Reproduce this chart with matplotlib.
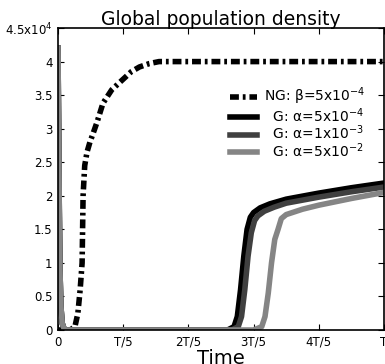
# Global population density over time, NG vs G runs
import matplotlib.pyplot as plt

# time as a fraction of T
ng_t = [0.0, 0.02, 0.04, 0.052, 0.061, 0.068, 0.074, 0.077, 0.082, 0.089, 0.098, 0.107,
        0.12, 0.138, 0.165, 0.196, 0.225, 0.25, 0.28, 0.31, 0.4, 0.6, 0.8, 1.0]
ng_v = [0.0, 0.0, 0.01, 0.05, 0.25, 0.6, 1.0, 2.0, 2.45, 2.65, 2.8, 2.92,
        3.1, 3.38, 3.58, 3.72, 3.85, 3.92, 3.97, 4.0, 4.0, 4.0, 4.0, 4.0]

g1_t = [0.0, 0.002, 0.004, 0.006, 0.009, 0.013, 0.02, 0.5, 0.52, 0.54, 0.55, 0.56, 0.57,
        0.58, 0.59, 0.60, 0.62, 0.65, 0.7, 0.8, 0.9, 1.0]
g1_v = [4.2, 3.0, 1.8, 0.9, 0.35, 0.1, 0.0, 0.0, 0.0, 0.05, 0.2, 0.6, 1.1,
        1.5, 1.68, 1.75, 1.82, 1.88, 1.95, 2.04, 2.12, 2.19]

g2_t = [0.0, 0.002, 0.004, 0.006, 0.009, 0.013, 0.02, 0.5, 0.533, 0.553, 0.563, 0.573, 0.583,
        0.593, 0.603, 0.613, 0.633, 0.663, 0.7, 0.8, 0.9, 1.0]
g2_v = [4.2, 3.0, 1.8, 0.9, 0.35, 0.1, 0.0, 0.0, 0.0, 0.05, 0.2, 0.6, 1.1,
        1.45, 1.63, 1.7, 1.77, 1.83, 1.89, 1.98, 2.06, 2.13]

g3_t = [0.0, 0.002, 0.004, 0.006, 0.009, 0.013, 0.02, 0.55, 0.6, 0.625, 0.635, 0.645, 0.655,
        0.665, 0.675, 0.685, 0.7, 0.75, 0.8, 0.9, 1.0]
g3_v = [4.2, 3.0, 1.8, 0.9, 0.35, 0.1, 0.0, 0.0, 0.0, 0.05, 0.2, 0.55, 1.0,
        1.35, 1.5, 1.66, 1.72, 1.8, 1.86, 1.96, 2.05]

xticks = [0, 0.2, 0.4, 0.6, 0.8, 1.0]
xlabels = ['0', 'T/5', '2T/5', '3T/5', '4T/5', 'T']
yticks = [0, 0.5, 1, 1.5, 2, 2.5, 3, 3.5, 4, 4.5]
ylabels = ['0', '0.5', '1', '1.5', '2', '2.5', '3', '3.5', '4', '4.5x10$^4$']

fig = plt.figure(figsize=(3.85, 3.64), dpi=100)
ax = fig.add_axes([0.1506, 0.0934, 0.8468, 0.8296])

ng, = ax.plot(ng_t, ng_v, color='black', lw=4, label='NG: β=5x10$^{-4}$')
ng.set_dashes([1.6, 0.7, 0.5, 0.7])
ax.plot(g1_t, g1_v, color='black', lw=4, label='  G: α=5x10$^{-4}$')
ax.plot(g2_t, g2_v, color='#404040', lw=4, label='  G: α=1x10$^{-3}$')
ax.plot(g3_t, g3_v, color='#858585', lw=4, label='  G: α=5x10$^{-2}$')

ax.set_xlim(0, 1.0)
ax.set_ylim(0, 4.5)
ax.set_xticks(xticks)
ax.set_xticklabels(xlabels)
ax.set_yticks(yticks)
ax.set_yticklabels(ylabels)
ax.tick_params(direction='in', top=True, right=True, length=4, labelsize=8.5, pad=4)
for s in ax.spines.values():
    s.set_linewidth(1.2)

ax.set_title('Global population density', fontsize=13.5, pad=2)
ax.set_xlabel('Time', fontsize=14, labelpad=0)
ax.legend(loc='upper right', bbox_to_anchor=(0.98, 0.85), frameon=False, fontsize=10,
          handlelength=1.9, labelspacing=-0.08, handletextpad=0.5)

fig.savefig('out.png', dpi=100)
